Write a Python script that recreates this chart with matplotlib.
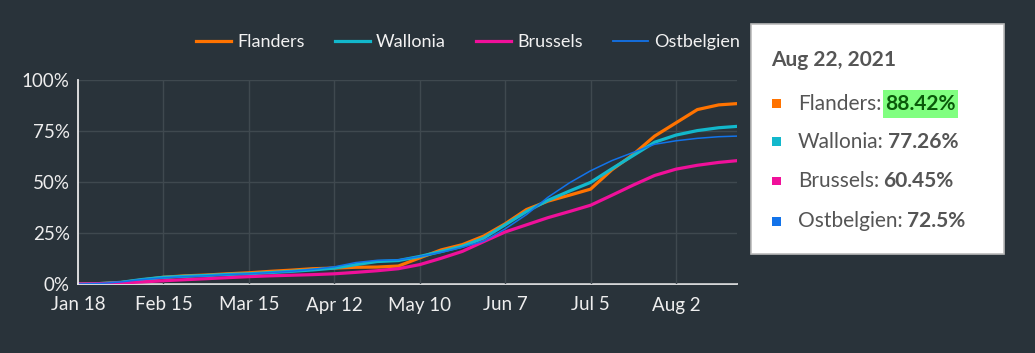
import matplotlib
matplotlib.use("Agg")
import matplotlib.pyplot as plt
import matplotlib.dates as mdates
from matplotlib.patches import Rectangle
import numpy as np

plt.rcParams['font.family'] = ['Lato', 'DejaVu Sans']

# days after Jan 18, 2021
days = [0, 7, 14, 21, 28, 35, 42, 49, 56, 63, 70, 77, 84, 91, 98, 105,
        112, 119, 126, 133, 140, 147, 154, 161, 168, 175, 182, 189, 196, 203, 210, 216]

flanders = [0, 0.2, 0.7, 2.0, 3.3, 4.0, 4.4, 5.0, 5.5, 6.2, 6.8, 7.5, 7.8, 8.2, 8.3, 8.8,
            12.8, 16.7, 19.3, 23.5, 29.5, 36.5, 40.6, 43.5, 46.5, 56.0, 63.5, 72.5, 79.0, 85.5, 87.8, 88.42]
wallonia = [0, 0.2, 0.8, 2.2, 3.3, 3.8, 4.2, 4.7, 5.0, 5.6, 6.2, 6.9, 7.8, 9.5, 11.0, 11.5,
            13.5, 15.9, 18.5, 22.5, 29.0, 35.5, 41.0, 45.5, 49.8, 56.5, 63.0, 69.5, 73.0, 75.2, 76.6, 77.26]
brussels = [0, 0.1, 0.5, 1.0, 1.6, 2.1, 2.6, 3.1, 3.6, 4.0, 4.3, 4.6, 5.0, 5.7, 6.5, 7.5,
            9.5, 12.6, 16.0, 20.8, 25.5, 29.0, 32.5, 35.5, 38.6, 43.5, 48.5, 53.2, 56.3, 58.2, 59.6, 60.45]
ostbelgien = [0, 0.2, 1.0, 2.2, 3.0, 3.6, 4.0, 4.6, 5.0, 5.6, 6.2, 7.2, 8.4, 10.5, 11.6, 11.8,
              13.5, 15.5, 18.0, 21.0, 27.0, 34.0, 42.5, 49.5, 55.5, 60.5, 64.5, 68.5, 70.2, 71.4, 72.2, 72.5]

names = ["Flanders", "Wallonia", "Brussels", "Ostbelgien"]
series = [flanders, wallonia, brussels, ostbelgien]
colors = ["#ff7300", "#12b8cc", "#f0109a", "#1273ea"]
widths = [2.3, 2.3, 2.3, 1.1]
tooltip_date = "Aug 22, 2021"
tooltip_vals = ["88.42%", "77.26%", "60.45%", "72.5%"]

bg = "#29333a"
start = np.datetime64("2021-01-18")
dates = start + np.array(days).astype("timedelta64[D]")

fig = plt.figure(figsize=(10.35, 3.53), dpi=100, facecolor=bg)
ax = fig.add_axes([78 / 1035, 69 / 353, 659 / 1035, 204 / 353])
ax.set_facecolor(bg)

for name, vals, c, lw in zip(names, series, colors, widths):
    ax.plot(dates, vals, color=c, lw=lw, label=name, solid_joinstyle="round")

ax.set_xlim(start, np.datetime64("2021-08-22"))
ax.set_ylim(0, 100)
ticks = start + np.arange(0, 210, 28).astype("timedelta64[D]")
ax.set_xticks(ticks)
ax.xaxis.set_major_formatter(mdates.DateFormatter("%b %-d"))
ax.set_yticks([0, 25, 50, 75, 100])
ax.set_yticklabels(["0%", "25%", "50%", "75%", "100%"])
ax.tick_params(length=0, colors="#eeeeee", labelsize=13.5)
ax.tick_params(axis="x", pad=9)
ax.tick_params(axis="y", pad=6)
ax.grid(True, color="#3f494f", lw=1)
ax.set_axisbelow(True)
for s in ["top", "right"]:
    ax.spines[s].set_visible(False)
for s in ["left", "bottom"]:
    ax.spines[s].set_color("#e8e8e8")
    ax.spines[s].set_linewidth(1.3)
ax.spines["bottom"].set_zorder(0.5)

leg = fig.legend(loc="center", bbox_to_anchor=(468 / 1035, 1 - 42 / 353), ncol=4,
                 frameon=False, fontsize=13, labelcolor="#f2f2f2",
                 handlelength=1.95, handletextpad=0.3, columnspacing=1.7)
for h in leg.get_lines():
    h.set_linewidth(2.3)
leg.get_lines()[3].set_linewidth(1.3)

# tooltip box
x0, y0, x1, y1 = 751, 24, 1004, 254
fig.patches.append(Rectangle((x0 / 1035, 1 - y1 / 353), (x1 - x0) / 1035, (y1 - y0) / 353,
                             transform=fig.transFigure, facecolor="white",
                             edgecolor="#bbbbbb", lw=1.2))
fig.text(771 / 1035, 1 - 60 / 353, tooltip_date, fontsize=15, fontweight="bold",
         color="#555555", va="center")

fig.canvas.draw()
r = fig.canvas.get_renderer()
rows = [104, 142, 181, 221]
for i, (name, val, c) in enumerate(zip(names, tooltip_vals, colors)):
    yy = 1 - rows[i] / 353
    fig.patches.append(Rectangle((772 / 1035, yy - 4.5 / 353), 9 / 1035, 9 / 353,
                                 transform=fig.transFigure, facecolor=c, lw=0))
    t = fig.text(798 / 1035, yy, name + ":", fontsize=15, color="#555555", va="center")
    bb = t.get_window_extent(r)
    xv = bb.x1 / 1035 + 4 / 1035
    t2 = fig.text(xv, yy, val, fontsize=15, fontweight="bold",
                  color="#0a5a0a" if i == 0 else "#555555", va="center")
    if i == 0:
        bb2 = t2.get_window_extent(r)
        fig.patches.append(Rectangle((bb2.x0 / 1035 - 2 / 1035, yy - 14 / 353),
                                     (bb2.width + 4) / 1035, 28 / 353,
                                     transform=fig.transFigure, facecolor="#80ff80", lw=0))

fig.savefig("out.png", dpi=100, facecolor=bg)
